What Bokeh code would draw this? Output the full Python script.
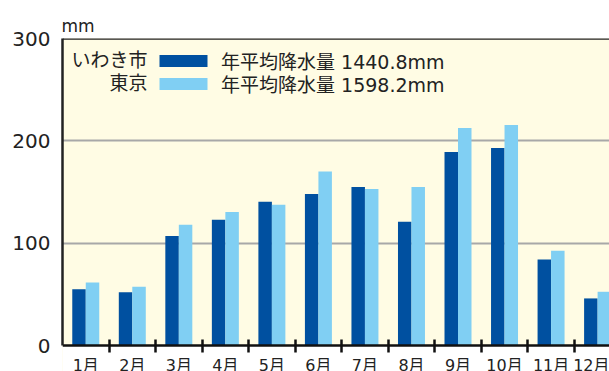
from bokeh.plotting import figure
from bokeh.models import (Range1d, FixedTicker, Span, Label, Legend, BoxAnnotation,
                          LegendItem, ColumnDataSource)
from bokeh.transform import dodge
from bokeh.embed import file_html
from bokeh.resources import INLINE

# Monthly precipitation (mm)
months = ["1月", "2月", "3月", "4月", "5月", "6月", "7月", "8月", "9月", "10月", "11月", "12月"]
iwaki = [55, 52, 107, 123, 140.5, 148, 155, 121, 189, 193, 84, 46]
tokyo = [61.5, 57.5, 118, 130.5, 137.5, 170, 153, 155, 212.5, 215.5, 92.5, 52.5]
cities = ["いわき市", "東京"]
annual_labels = ["年平均降水量 1440.8mm", "年平均降水量 1598.2mm"]
y_ticks = [0, 100, 200, 300]
unit_label = "mm"

DARK = "#0050A0"
LIGHT = "#80CFF3"
BG = "#FFFCE4"
INK = "#222222"
FONT = "DejaVu Sans, Noto Sans CJK JP"

centers = [i + 0.5 for i in range(len(months))]
src = ColumnDataSource(dict(x=centers, iwaki=iwaki, tokyo=tokyo))

# the frame runs to the bottom edge; the strip below y=0 holds the month names
PX_PER_MM = 307 / 300
p = figure(width=609, height=371, output_backend="svg", toolbar_location=None,
           x_range=Range1d(0, 547 / 46.53),
           y_range=Range1d(-26 / PX_PER_MM, 300),
           min_border_left=62, min_border_top=38, min_border_bottom=0,
           min_border_right=0)
p.background_fill_color = BG
p.border_fill_color = "white"
p.outline_line_color = None

# white strip under the baseline
p.add_layout(BoxAnnotation(top=0, fill_color="white", fill_alpha=1,
                           line_color=None, level="underlay"))

# unit shown above the y axis
p.title.text = unit_label
p.title.align = "left"
p.title.offset = -1
p.title.standoff = 6
p.title.text_font = FONT
p.title.text_font_style = "normal"
p.title.text_font_size = "17px"
p.title.text_color = INK

# bars
r1 = p.vbar(x=dodge("x", -0.145, range=p.x_range), top="iwaki", width=0.29,
            source=src, fill_color=DARK, line_color=None)
r2 = p.vbar(x=dodge("x", 0.145, range=p.x_range), top="tokyo", width=0.29,
            source=src, fill_color=LIGHT, line_color=None)

# x axis pinned to y=0: month names at centres, ticks on the boundaries
xa = p.xaxis[0]
xa.fixed_location = 0
xa.ticker = FixedTicker(ticks=centers, minor_ticks=list(range(1, len(months))))
xa.major_label_overrides = {c: m for c, m in zip(centers, months)}
xa.axis_line_color = "#111111"
xa.axis_line_width = 2.5
xa.major_tick_line_color = None
xa.major_tick_in = 0
xa.major_tick_out = 0
xa.minor_tick_line_color = "#111111"
xa.minor_tick_line_width = 2.5
xa.minor_tick_in = 6
xa.minor_tick_out = 7
xa.major_label_standoff = 3
xa.major_label_text_font = FONT
xa.major_label_text_font_size = "16px"
xa.major_label_text_color = INK

# y axis, its line limited to the data box
ya = p.yaxis[0]
ya.bounds = (0, 300)
ya.ticker = FixedTicker(ticks=y_ticks)
ya.axis_line_color = INK
ya.axis_line_width = 2.5
ya.major_tick_line_color = None
ya.major_tick_in = 0
ya.major_tick_out = 0
ya.minor_tick_line_color = None
ya.major_label_standoff = 12
ya.major_label_text_font = FONT
ya.major_label_text_font_size = "20px"
ya.major_label_text_color = INK

p.xgrid.grid_line_color = None
p.ygrid.ticker = FixedTicker(ticks=y_ticks[1:-1])
p.ygrid.grid_line_color = "#A8A8A8"
p.ygrid.grid_line_width = 2

# top edge of the plotting box
p.add_layout(Span(location=300, dimension="width", line_color=INK, line_width=2.5))

# legend rows: city name, swatch, annual total
row_y = [296.75, 273.75]
for i, (r, lab, name) in enumerate(zip([r1, r2], annual_labels, cities)):
    p.add_layout(Legend(items=[LegendItem(label=lab, renderers=[r])],
                        location=(91, row_y[i]),
                        glyph_width=60, glyph_height=15, label_height=15,
                        label_standoff=8, padding=0, margin=0,
                        border_line_color=None, background_fill_alpha=0,
                        label_text_font=FONT, label_text_font_size="19px",
                        label_text_color=INK))
    p.add_layout(Label(x=85, y=311.5 - 23 * i, x_units="screen", y_units="screen",
                       text=name, text_font=FONT, text_font_size="19px",
                       text_color=INK, text_align="right", text_baseline="middle"))

open("out.html", "w").write(file_html(p, INLINE))
